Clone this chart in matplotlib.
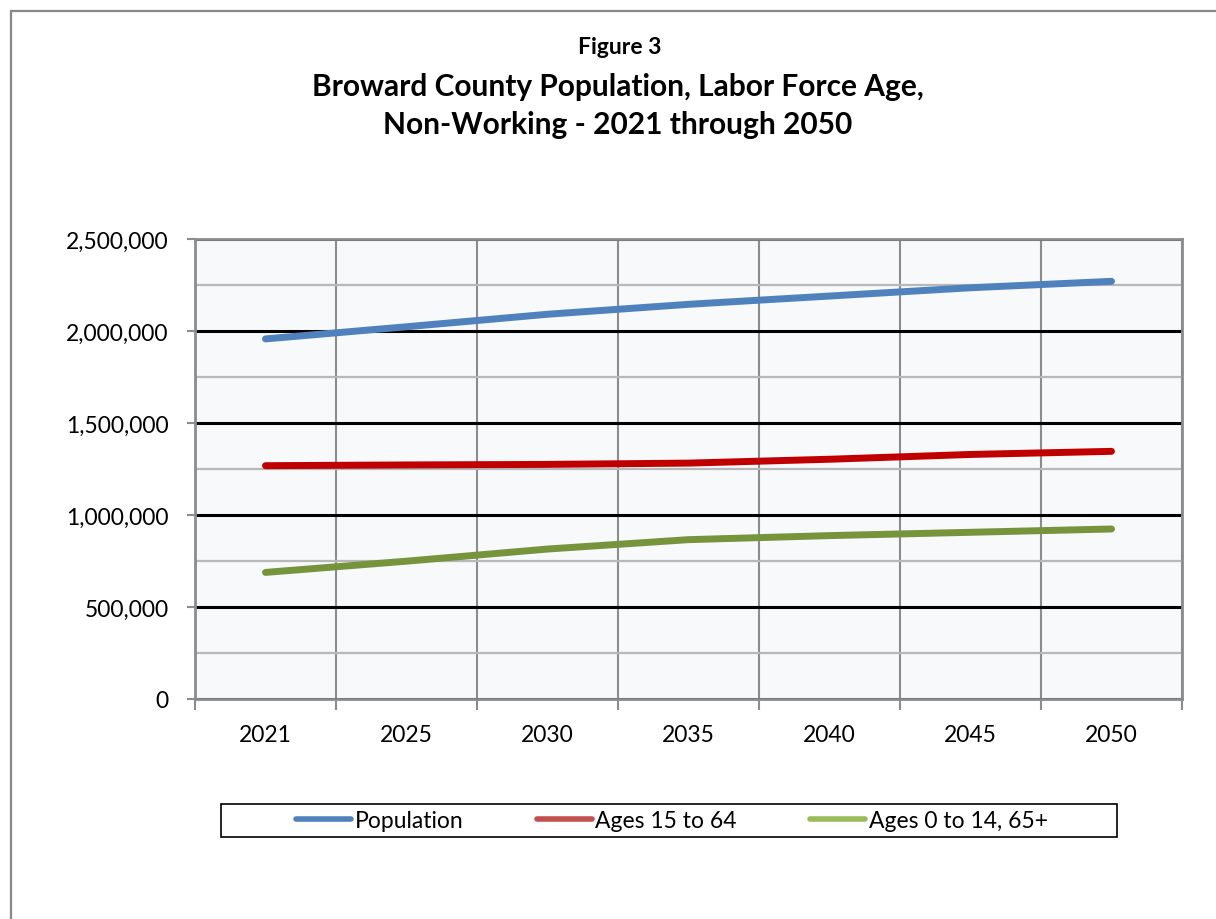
import matplotlib
matplotlib.use("Agg")
import matplotlib.pyplot as plt
from matplotlib.lines import Line2D
from matplotlib.patches import Rectangle
from matplotlib.ticker import FuncFormatter, MultipleLocator

years = ["2021", "2025", "2030", "2035", "2040", "2045", "2050"]
population = [1957000, 2023000, 2091000, 2145000, 2190000, 2235000, 2270000]
ages_15_64 = [1268000, 1272000, 1275000, 1282000, 1303000, 1329000, 1346000]
ages_0_14_65 = [688000, 749000, 815000, 866000, 888000, 906000, 924000]

plt.rcParams['font.family'] = ['Lato', 'DejaVu Sans']

fig = plt.figure(figsize=(12.16, 9.2), dpi=100)
W, H = 1216, 920

# outer chart border (runs off the right/bottom edge)
fig.patches.append(Rectangle((11 / W, -0.1), 1.2, (920 - 12) / H + 0.1, transform=fig.transFigure,
                             fill=False, edgecolor="#888888", linewidth=1.6))

fig.text(620 / W, 1 - 48 / H, "Figure 3", ha="center", va="center", fontsize=16.5, fontweight="bold")
fig.text(618 / W, 1 - 106 / H, "Broward County Population, Labor Force Age,\nNon-Working - 2021 through 2050",
         ha="center", va="center", fontsize=21.5, fontweight="bold", linespacing=1.45)

ax = fig.add_axes([195 / W, 1 - 700 / H, (1182 - 195) / W, (700 - 240) / H])
ax.set_facecolor("#F7F9FB")

x = range(len(years))
ax.plot(x, population, color="#4F81BD", linewidth=5, solid_capstyle="round", zorder=5)
ax.plot(x, ages_15_64, color="#C00000", linewidth=5, solid_capstyle="round", zorder=5)
ax.plot(x, ages_0_14_65, color="#77933C", linewidth=5, solid_capstyle="round", zorder=5)

ax.set_xlim(-0.5, len(years) - 0.5)
ax.set_ylim(0, 2500000)

ax.yaxis.set_major_locator(MultipleLocator(500000))
ax.yaxis.set_minor_locator(MultipleLocator(250000))
ax.yaxis.set_major_formatter(FuncFormatter(lambda v, p: f"{int(v):,}"))
ax.grid(True, axis="y", which="minor", color="#B8B8B8", linewidth=1.6)
ax.grid(True, axis="y", which="major", color="black", linewidth=2.2)

ax.set_xticks([i + 0.5 for i in range(-1, len(years))], minor=False)
ax.set_xticklabels([])
ax.set_xticks(list(x), minor=True)
ax.set_xticklabels(years, minor=True)
ax.grid(True, axis="x", which="major", color="#8C8C8C", linewidth=1.5)
ax.set_axisbelow(True)

ax.tick_params(axis="x", which="major", length=8, width=1.5, color="#8C8C8C")
ax.tick_params(axis="x", which="minor", length=0, pad=18, labelsize=16.5)
ax.tick_params(axis="y", which="major", length=6, width=1.5, color="#8C8C8C", labelsize=16.5, pad=13)
ax.tick_params(axis="y", which="minor", length=0)

for s in ax.spines.values():
    s.set_color("#8C8C8C")
    s.set_linewidth(2)

# legend box
fig.patches.append(Rectangle((221 / W, 1 - 838 / H), (1117 - 221) / W, 33 / H, transform=fig.transFigure,
                             fill=False, edgecolor="black", linewidth=1.2))
handles = [Line2D([], [], color="#4F81BD", linewidth=4, solid_capstyle="round"),
           Line2D([], [], color="#C0504D", linewidth=4, solid_capstyle="round"),
           Line2D([], [], color="#9BBB59", linewidth=4, solid_capstyle="round")]
fig.legend(handles, ["Population", "Ages 15 to 64", "Ages 0 to 14, 65+"], ncol=3, frameon=False,
           loc="center", bbox_to_anchor=(672 / W, 1 - 822 / H), fontsize=16.5,
           handlelength=2.4, handletextpad=0.15, columnspacing=3.2)

fig.savefig("out.png", dpi=100)
